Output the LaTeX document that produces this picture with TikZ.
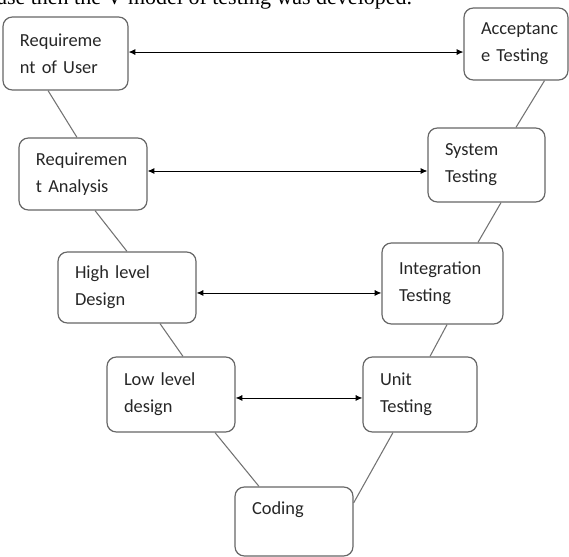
\documentclass[tikz,border=0pt]{standalone}
\usepackage{fontspec}
\setmainfont{Liberation Serif}
\newfontfamily\boxfont{Carlito}
\usetikzlibrary{arrows.meta}

\tikzset{
  stage/.style={draw=black!60, line width=0.9pt, rounded corners=7pt, align=left,
    inner xsep=12.75pt, inner ysep=0pt, text=black!85,
    font=\boxfont\fontsize{13.8}{20.25}\selectfont},
  vline/.style={draw=black!55, line width=0.8pt},
  link/.style={{Latex[length=5pt,width=4.5pt]}-{Latex[length=5pt,width=4.5pt]}, line width=0.7pt}
}

\begin{document}
\begin{tikzpicture}[x=0.75pt,y=-0.75pt]
\path[use as bounding box] (0,0) rectangle (569,557);
\clip (0,0) rectangle (569,557);

% line cut off above the figure
\node[anchor=base west, inner sep=0pt, font=\fontsize{16.5}{20}\selectfont] (intro) at (-3,4.5) {ase then the V model of testing was developed.};

% left arm
\node[stage, text width=68.25pt, minimum height=54.75pt] (req) at (65.5,53.5) {Requireme\\nt of User};
\node[stage, text width=70.5pt, minimum height=54pt] (reqa) at (83,174) {Requiremen\\t Analysis};
\node[stage, text width=78pt, minimum height=53.25pt] (hld) at (127,287.5) {High level\\Design};
\node[stage, text width=70.5pt, minimum height=56.25pt] (lld) at (171,394.5) {Low level\\design};

% right arm
\node[stage, text width=52.5pt, minimum height=54pt] (acc) at (516,44) {Acceptanc\\e Testing};
\node[stage, text width=62.25pt, minimum height=55.5pt] (sys) at (486.5,165) {System\\Testing};
\node[stage, text width=65.25pt, minimum height=60.75pt] (integ) at (442.5,283.5) {Integration\\Testing};
\node[stage, text width=60pt, minimum height=56.25pt] (unit) at (420,394.5) {Unit\\Testing};

% bottom
\node[stage, text width=63pt, minimum height=51.75pt] (cod) at (294,521.5) {Coding\\\mbox{}};

% the V
\draw[vline] ([xshift=-13.1pt]req.south) -- ([xshift=-4.5pt]reqa.north);
\draw[vline] ([xshift=9pt]reqa.south) -- (hld.north);
\draw[vline] ([xshift=24.75pt]hld.south) -- ([xshift=9pt]lld.north);
\draw[vline] ([xshift=33pt]lld.south) -- ([xshift=-26.25pt]cod.north);
\draw[vline] ([xshift=21.4pt]acc.south) -- ([xshift=22.1pt]sys.north);
\draw[vline] ([xshift=10.9pt]sys.south) -- ([xshift=26.6pt]integ.north);
\draw[vline] ([xshift=3.4pt]integ.south) -- ([xshift=7.5pt]unit.north);
\draw[vline] ([xshift=-20.25pt]unit.south) -- ([yshift=13.9pt]cod.east);

% verification links
\coordinate (l1) at ([yshift=1.1pt]req.east);
\coordinate (l2) at ([yshift=2.25pt]reqa.east);
\coordinate (l3) at ([yshift=-4.1pt]hld.east);
\coordinate (l4) at ([yshift=-2.6pt]lld.east);
\draw[link] (l1) -- (l1 -| acc.west);
\draw[link] (l2) -- (l2 -| sys.west);
\draw[link] (l3) -- (l3 -| integ.west);
\draw[link] (l4) -- (l4 -| unit.west);
\end{tikzpicture}
\end{document}
